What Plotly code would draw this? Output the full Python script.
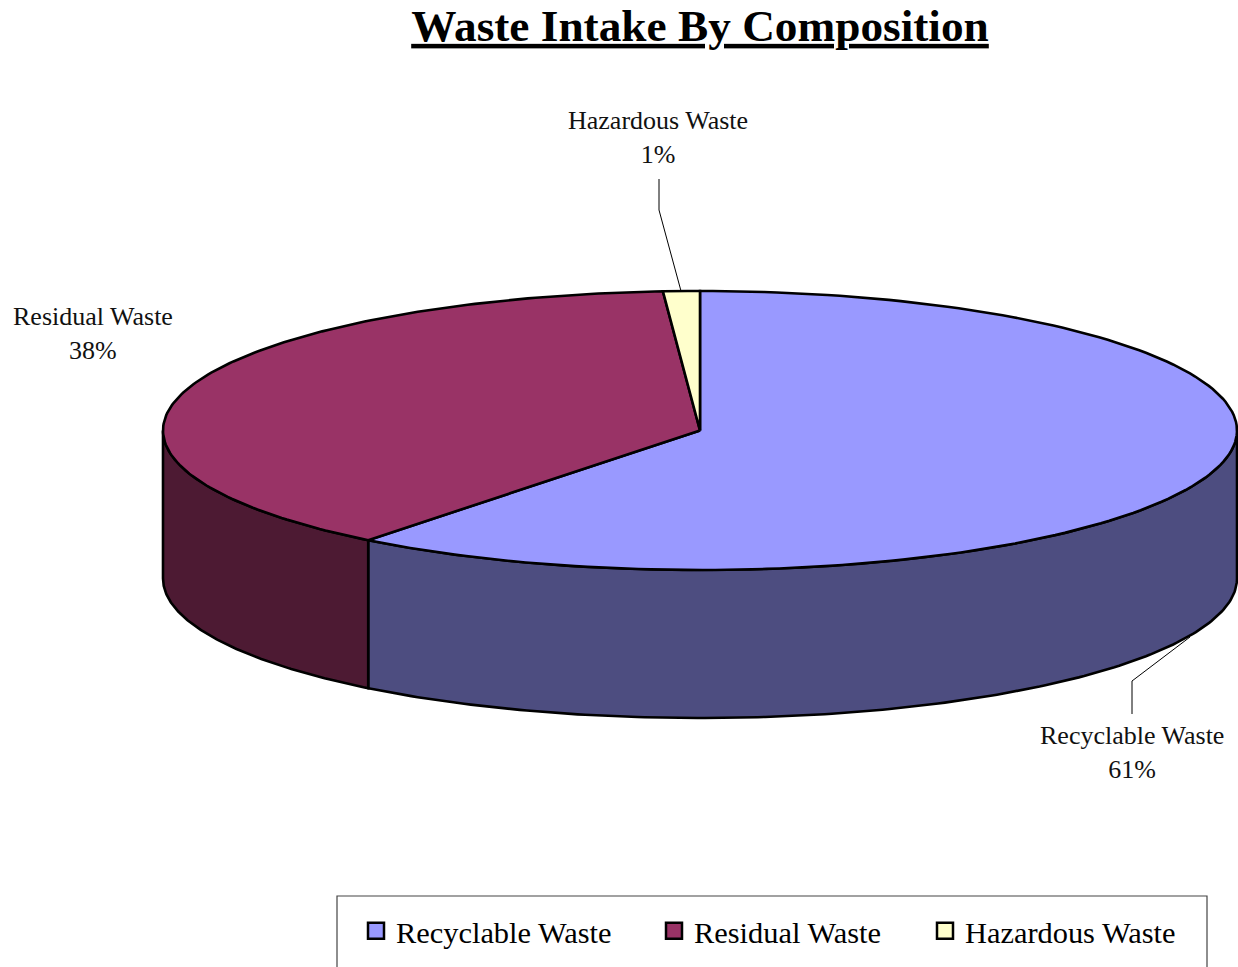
import numpy as np
import plotly.graph_objects as go

categories = ["Recyclable Waste", "Residual Waste", "Hazardous Waste"]
values = [60.6, 38.3, 1.1]
top_colors = ["#9999FF", "#993366", "#FFFFCC"]
side_colors = ["#4D4D80", "#4D1A33", "#808066"]
legend_left = [356, 654, 925]
FONT = "Liberation Serif"

CX, CY, RX, RY, DEPTH = 700, 430.5, 537, 139.5, 148
LINE = dict(color="black", width=2.6)


def rim(a0, a1, n=160, dy=0):
    t = np.radians(np.linspace(a0, a1, n))
    return CX + RX * np.sin(t), CY - RY * np.cos(t) + dy


fig = go.Figure()
total = sum(values)
edges = np.cumsum([0] + values) / total * 360
spans = list(zip(edges[:-1], edges[1:]))

# outer wall: only the front half (90..270 deg) of the rim is visible
for (a0, a1), color in zip(spans, side_colors):
    lo, hi = max(a0, 90), min(a1, 270)
    if lo >= hi:
        continue
    xt, yt = rim(lo, hi)
    xb, yb = rim(hi, lo, dy=DEPTH)
    fig.add_trace(go.Scatter(
        x=np.r_[xt, xb, xt[0]], y=np.r_[yt, yb, yt[0]], mode="lines", fill="toself",
        fillcolor=color, line=LINE, showlegend=False, hoverinfo="skip"))

# top faces
for (a0, a1), color, name in zip(spans, top_colors, categories):
    xr, yr = rim(a0, a1)
    fig.add_trace(go.Scatter(
        x=np.r_[CX, xr, CX], y=np.r_[CY, yr, CY], mode="lines", fill="toself",
        fillcolor=color, line=LINE, showlegend=False, name=name, hoverinfo="name"))

# legend entries, one native legend per entry so each sits at its own position
legend_ids = ["legend", "legend2", "legend3"]
for color, name, lid in zip(top_colors, categories, legend_ids):
    fig.add_trace(go.Scatter(
        x=[None], y=[None], mode="markers", name=name, legend=lid, showlegend=True,
        marker=dict(symbol="square", size=17, color=color, line=dict(color="black", width=2.5))))

legend_layout = {
    lid: dict(orientation="h", x=left / 1238, xanchor="left", y=1 - 931 / 967, yanchor="middle",
              font=dict(family=FONT, size=30.4, color="black"), itemwidth=30,
              bgcolor="rgba(0,0,0,0)", borderwidth=0)
    for lid, left in zip(legend_ids, legend_left)
}

labels = [
    (categories[0], values[0], 1132, 752),
    (categories[1], values[1], 93, 333),
    (categories[2], values[2], 658, 137),
]
annotations = [
    dict(x=x, y=y, xref="x", yref="y", showarrow=False, align="center",
         text=f"{name}<br>{round(v)}%", font=dict(family=FONT, size=26, color="#111111"))
    for name, v, x, y in labels
]

leaders = [
    "M 1132 714 L 1132 681 L 1190 637",
    "M 659 179 L 659 210 L 681 291",
]
shapes = [dict(type="path", path=p, xref="x", yref="y", line=dict(color="black", width=1)) for p in leaders]
shapes.append(dict(type="rect", xref="x", yref="y", x0=337, x1=1207, y0=896, y1=1000,
                   line=dict(color="#444444", width=1.2), fillcolor="rgba(0,0,0,0)"))

fig.update_layout(
    width=1238, height=967, margin=dict(l=0, r=0, t=0, b=0),
    paper_bgcolor="white", plot_bgcolor="white",
    xaxis=dict(range=[0, 1238], visible=False, fixedrange=True),
    yaxis=dict(range=[967, 0], visible=False, fixedrange=True),
    title=dict(text="<b><u>Waste Intake By Composition</u></b>", x=700 / 1238, xanchor="center",
               y=1 - 25 / 967, yanchor="middle", font=dict(family=FONT, size=45.3, color="black")),
    annotations=annotations, shapes=shapes,
    **legend_layout,
)

fig.write_html("out.html", config={"displayModeBar": False},
               post_script="document.body.style.margin='0';")
